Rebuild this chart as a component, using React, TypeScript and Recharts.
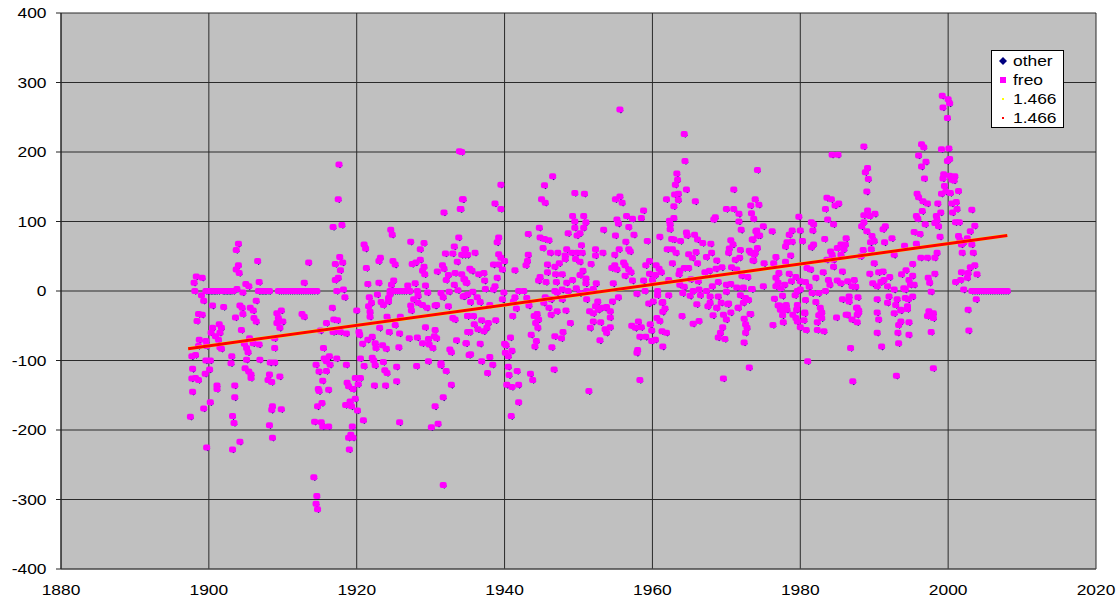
import React from 'react';
import { ScatterChart, Scatter, XAxis, YAxis, CartesianGrid, Legend } from 'recharts';

const xTicks = [1880, 1900, 1920, 1940, 1960, 1980, 2000, 2020];
const yTicks = [-400, -300, -200, -100, 0, 100, 200, 300, 400];
const trendYears = [1897.2, 2008];
const trendValues = [-83, 80];
const legendNames = ['other', 'freo', '1.466', '1.466'];

const zeroYears = [1899.6, 1899.8, 1900, 1900.2, 1900.4, 1900.6, 1900.8, 1901, 1901.3, 1901.8, 1902, 1902.2, 1902.4, 1902.6, 1902.8, 1903, 1903.3, 1906.7, 1906.9, 1907.1, 1907.3, 1907.5, 1907.7, 1908, 1908.2, 1909.4, 1909.7, 1910, 1910.3, 1910.6, 1910.9, 1911.2, 1911.5, 1911.8, 1912.1, 1912.4, 1912.7, 1913, 1913.3, 1913.6, 1913.9, 1914.2, 1914.6, 1924.5, 1924.8, 1925.1, 1925.4, 1925.7, 1926, 1926.3, 1926.6, 1927, 1927.2, 2003.2, 2003.5, 2003.8, 2004.1, 2004.4, 2004.7, 2005, 2005.3, 2005.6, 2005.9, 2006.2, 2006.5, 2006.8, 2007.1, 2007.4, 2007.7, 2008];

const pairsUpperEarly = [[1917.6,182],[1917.5,132],[1916.8,92],[1918,95],[1904,68],[1903.7,59],[1906.6,43],[1913.5,41],[1917.7,49],[1917.1,39],[1918.1,41],[1917.8,30],[1917.5,19],[1917.1,16],[1904,37],[1903.7,31],[1904.1,26],[1898.3,21],[1899.1,19],[1898,12],[1905,10],[1905.4,7],[1906.8,13],[1912.9,12],[1898.1,0],[1899,-6],[1899.3,-14],[1903.8,3],[1904.6,-2],[1921,67],[1921.2,61],[1924.6,88],[1924.8,81],[1927.3,71],[1929.1,69],[1928.6,60],[1933.8,77],[1933.2,64],[1934.6,60],[1932,54],[1933,54],[1934.2,52],[1935,52],[1933.9,201],[1934.3,132],[1934,118],[1931.8,113],[1923.2,48],[1923,43],[1921.3,33],[1924.9,43],[1925.2,38],[1927.5,39],[1928,41],[1928.6,45],[1929.1,35],[1928.9,29],[1929.2,24],[1930.9,28],[1931.6,37],[1931.8,32],[1933.6,42],[1933.3,26],[1932.4,23],[1932.1,16],[1934.2,24],[1934.6,17],[1934.9,12],[1921.5,10],[1923,12],[1925,15],[1924.7,9],[1926.9,8],[1927.9,11],[1929.3,8],[1933.2,9],[1928.2,0],[1929.6,-2],[1931.4,-3],[1931.7,-9],[1932.5,-1],[1933.7,1],[1921.7,-9],[1922.8,-5],[1924.5,-5],[1924.3,-10],[1928.3,-7],[1927.7,-12],[1934.4,-8],[1935,-5],[1917.3,0],[1918.2,2],[1918.4,-9]];

const pairsLowerEarly = [[1900.5,-21],[1902,-23],[1898.6,-33],[1899.1,-34],[1898.4,-43],[1904.2,-21],[1904.5,-24],[1906.4,-14],[1905.6,-24],[1906,-28],[1904.6,-33],[1903.6,-38],[1906.1,-39],[1906.4,-44],[1909.8,-28],[1909.2,-32],[1909.4,-39],[1910,-44],[1909.2,-46],[1909.6,-53],[1912.6,-33],[1912.9,-37],[1916.7,-24],[1920,-28],[1915.9,-46],[1916.9,-41],[1917.4,-42],[1901.4,-48],[1901.7,-53],[1900.5,-53],[1900.3,-60],[1901.5,-60],[1900.9,-65],[1901.3,-70],[1904.4,-56],[1898.7,-70],[1899.6,-72],[1898.6,-79],[1899.7,-79],[1901.5,-81],[1901.7,-83],[1905.5,-68],[1904.8,-76],[1906,-75],[1906.8,-77],[1905.1,-82],[1905.3,-88],[1908.9,-68],[1908.9,-82],[1903.1,-94],[1897.7,-94],[1898.2,-92],[1899.6,-100],[1900.2,-100],[1903,-104],[1905.1,-99],[1906.9,-99],[1908.3,-103],[1908.9,-103],[1897.8,-112],[1900.1,-113],[1899.5,-119],[1904.9,-111],[1905.4,-116],[1905.7,-120],[1905.7,-125],[1908.2,-120],[1909.6,-123],[1908,-128],[1908.5,-131],[1897.7,-126],[1898.2,-125],[1898.6,-128],[1897.8,-145],[1901.1,-136],[1901.1,-141],[1903.5,-136],[1903.5,-153],[1900.2,-160],[1899.3,-169],[1897.5,-181],[1903.2,-180],[1903.4,-190],[1908.2,-193],[1908.6,-166],[1908.5,-171],[1909.8,-170],[1908.6,-211],[1904.2,-217],[1903.2,-228],[1899.7,-225],[1914.2,-268],[1914.6,-295],[1914.5,-306],[1914.7,-314]];

const pairsLowerMid = [[1917.1,-58],[1916.8,-59],[1917.8,-59],[1918.6,-61],[1915.1,-57],[1920.3,-59],[1915.5,-82],[1920.4,-63],[1920.8,-76],[1921.5,-70],[1922.1,-66],[1922.5,-75],[1922.6,-82],[1923.5,-78],[1924,-83],[1925.7,-81],[1924.4,-59],[1925.8,-61],[1923.1,-53],[1925.2,-49],[1925.9,-37],[1924.1,-37],[1921.8,-37],[1921.8,-30],[1921.6,-22],[1922,-17],[1923.3,-16],[1923.6,-20],[1924.3,-15],[1927.4,-28],[1927.3,-21],[1928.3,-17],[1928.9,-20],[1929.5,-24],[1930.6,-21],[1930.8,-20],[1932.4,-22],[1933,-39],[1933.3,-41],[1935,-36],[1929.3,-52],[1930.6,-56],[1927.1,-68],[1928.2,-67],[1929.7,-69],[1930.5,-65],[1930.8,-68],[1928.9,-75],[1929.8,-77],[1930.3,-82],[1933.5,-71],[1934.8,-75],[1935,-59],[1932.6,-84],[1932.8,-88],[1935.2,-92],[1920.5,-97],[1922.1,-96],[1922.3,-100],[1923.6,-102],[1929.7,-101],[1931.4,-104],[1931.4,-107],[1921,-108],[1922.5,-107],[1923.8,-114],[1924.1,-118],[1925.4,-109],[1928.1,-108],[1932.1,-115],[1925.4,-130],[1922.4,-136],[1923.9,-136],[1932.8,-135],[1931.7,-153],[1930.6,-166],[1925.8,-189],[1931,-191],[1930.1,-196],[1931.7,-279],[1914.5,-106],[1915.6,-97],[1916.3,-94],[1917.3,-97],[1915.9,-101],[1916.4,-106],[1918.6,-106],[1914.9,-116],[1915.9,-115],[1915.4,-129],[1914.8,-141],[1914.9,-144],[1916.2,-142],[1918.7,-132],[1918.9,-137],[1919.5,-141],[1920.2,-134],[1919.8,-125],[1920.5,-125],[1919.8,-155],[1919.1,-159],[1918.5,-164],[1919.3,-166],[1915.3,-161],[1914.7,-166],[1920.1,-172],[1920.9,-186],[1914.3,-188],[1915.2,-189],[1915.4,-195],[1916.2,-195],[1919.4,-195],[1919.2,-207],[1918.9,-211],[1919.5,-211],[1919,-228]];

const pairsUpperMid = [[1934.2,200],[1939.5,153],[1934.4,132],[1938.7,126],[1939.5,118],[1934.1,118],[1946.5,165],[1945.4,152],[1945,132],[1945.5,127],[1949.5,141],[1950.8,140],[1955.6,261],[1955,132],[1955.6,136],[1955.9,127],[1958.8,116],[1949.2,108],[1950.7,108],[1949.5,100],[1951,99],[1949.5,91],[1950.7,91],[1944.7,91],[1956.5,108],[1957.3,104],[1958.5,105],[1955.2,103],[1955.4,97],[1956.8,92],[1953.4,88],[1948.6,83],[1950.2,83],[1949.8,80],[1943.2,82],[1955,80],[1957.5,81],[1964.3,226],[1964.4,187],[1963.3,169],[1963.4,160],[1963.1,153],[1964.6,146],[1963.5,140],[1963,139],[1961.9,132],[1963.5,131],[1965.8,129],[1962.9,122],[1974.2,174],[1971,146],[1973.9,132],[1973.3,123],[1970,118],[1971,118],[1971.7,111],[1973.4,112],[1974.4,124],[1968.5,106],[1968.3,103],[1971.7,100],[1973.7,104],[1962.9,105],[1962.3,101],[1962.4,96],[1962.4,89],[1972,88],[1961,78],[1962.6,75],[1962.9,74],[1964.6,84],[1964.7,80],[1965.7,81],[1966.1,74],[1966.8,69],[1967.9,68],[1959.3,72],[1963.8,72],[1970.6,73],[1970.9,67],[1973.6,74],[1974,86],[1974.2,80],[1939.2,77],[1939,70],[1934.7,60],[1944.8,77],[1945.4,75],[1946,73],[1950.4,66],[1945.2,62],[1956.4,71],[1934.6,52],[1936,55],[1939.2,53],[1939.5,48],[1940,43],[1946.2,55],[1947.2,55],[1948.4,60],[1948.2,51],[1949.1,55],[1949.8,55],[1950.5,55],[1948.2,46],[1949.6,46],[1950.2,42],[1952.3,60],[1952.3,51],[1953.3,55],[1955.5,60],[1956.8,60],[1957,57],[1954.9,52],[1943.2,52],[1943.1,43],[1942.9,37],[1945.8,38],[1947.4,40],[1946.8,35],[1951.7,39],[1954.9,37],[1954.5,33],[1955.2,31],[1956.1,41],[1956.3,37],[1956.8,31],[1957.1,27],[1959.1,37],[1959.6,43],[1960.5,37],[1960.9,32],[1961.2,27],[1962.7,40],[1962,60],[1962.7,60],[1963.2,55],[1964.9,53],[1965.4,48],[1965.9,56],[1966.1,40],[1967.3,49],[1968,55],[1968.7,44],[1969.4,34],[1970.3,55],[1970.4,61],[1971.9,59],[1971.2,45],[1971.8,48],[1973.1,58],[1973.8,53],[1973.6,44],[1970.7,34],[1971.4,31],[1964.9,33],[1964.3,33],[1963.7,29],[1963.6,24],[1967.7,29],[1967.1,27],[1968.6,32],[1941.4,30],[1939.7,31],[1939,19],[1937.3,15],[1936.5,24],[1937.2,26],[1935.3,32],[1935.6,29],[1934.5,17],[1934.8,12],[1938.5,38],[1939.2,38],[1944.8,20],[1944.6,15],[1945.8,27],[1946.9,24],[1945.6,13],[1947,13],[1947.8,24],[1948.4,12],[1949.2,16],[1950.2,23],[1950.6,29],[1951,18],[1951,11],[1952.4,11],[1954.7,11],[1956.3,22],[1957.3,15],[1958.8,15],[1959.6,25],[1960.4,23],[1960,16],[1962.2,16],[1963.7,9],[1964.3,6],[1965.2,17],[1966.2,14],[1968.1,7],[1968.9,13],[1970,9],[1970.6,10],[1972.9,20],[1972.1,22],[1971.4,5],[1972.3,5],[1973.4,3]];

const pairsNearLineMid = [[1935.7,-1],[1937.4,3],[1938.5,2],[1938.7,7],[1939.9,-2],[1934.6,-7],[1936.3,-9],[1935.4,-16],[1936.7,-16],[1938,-20],[1939.7,-12],[1941.4,-9],[1941.2,-15],[1942.6,0],[1941.9,0],[1943,-10],[1943.3,-21],[1941.6,-25],[1945.5,-9],[1945.3,-17],[1946,-24],[1946.8,0],[1947.8,2],[1947.1,-2],[1947.8,-12],[1946.3,-12],[1948.6,0],[1949.7,4],[1951.1,0],[1952,3],[1951.1,-12],[1950.2,-3],[1955.4,-9],[1952.6,-15],[1952.3,-22],[1954.6,-15],[1953.8,-23],[1953.1,-24],[1954.3,-29],[1957.9,-4],[1959,0],[1960.7,0],[1960.7,-6],[1960.1,-15],[1959.5,-18],[1961.4,-16],[1962.2,-6],[1964.1,-3],[1965.1,-7],[1965.5,0],[1966.3,2],[1966.5,-6],[1967.3,0],[1967.8,-8],[1966,-19],[1967.8,-17],[1968.9,-8],[1969.3,-17],[1970.2,-19],[1968.7,-24],[1971.6,-24],[1970,-1],[1971.9,-6],[1972.6,-10],[1973,-13],[1972.3,-17]];

const pairsLowerLate = [[1935,-36],[1935.8,-36],[1935.9,-48],[1936.9,-42],[1937.8,-46],[1938.8,-42],[1937.6,-53],[1937.2,-58],[1935.3,-59],[1936.4,-55],[1934.8,-75],[1936.7,-76],[1935.4,-91],[1938,-95],[1936.9,-101],[1938.4,-106],[1937.7,-118],[1941.1,-36],[1944.4,-33],[1944,-36],[1944.6,-41],[1944.2,-46],[1944.5,-53],[1946.3,-34],[1947.1,-29],[1948.3,-28],[1948.9,-46],[1943.6,-63],[1944.3,-72],[1944.1,-80],[1940.8,-67],[1940,-76],[1940.2,-78],[1941,-86],[1940.1,-89],[1940.5,-94],[1946.8,-65],[1947.7,-68],[1947.9,-59],[1946.4,-81],[1940.5,-109],[1941.7,-115],[1940.6,-121],[1943.5,-119],[1943.8,-128],[1946.7,-113],[1940.3,-135],[1941,-138],[1941.9,-135],[1941.9,-160],[1940.9,-180],[1951.4,-144],[1951.5,-29],[1952,-32],[1952.7,-27],[1953.6,-24],[1954.3,-38],[1952,-44],[1953,-45],[1951.6,-53],[1953.6,-55],[1954.3,-52],[1953.8,-60],[1952.9,-71],[1957.2,-50],[1958.1,-44],[1957.7,-53],[1958.5,-52],[1959.7,-48],[1959.9,-57],[1958.3,-66],[1959.1,-66],[1959.9,-72],[1960.4,-70],[1958,-85],[1957.9,-89],[1958.3,-128],[1961.4,-80],[1960.6,-39],[1961,-43],[1961.3,-58],[1961.9,-60],[1961.3,-17],[1961.7,-25],[1961.4,-30],[1964,-36],[1965.5,-47],[1966.3,-43],[1968.2,-35],[1967.5,-22],[1968.7,-24],[1970.3,-18],[1970.6,-31],[1969.6,-34],[1970,-41],[1969.5,-52],[1971.6,-24],[1969.2,-60],[1968.9,-67],[1969.8,-69],[1972.4,-40],[1972.6,-48],[1972.8,-53],[1972.6,-60],[1973.2,-33],[1972.4,-74],[1973.1,-110],[1969.6,-126]];

const pairsUpperRecent = [[1999.2,281],[2000,276],[2000.2,270],[1999.3,264],[1999.9,249],[1988.6,208],[1984.3,196],[1985.1,196],[1996.4,211],[1996.7,207],[1996,195],[1999.1,204],[2000.1,205],[2000.2,190],[1999.9,187],[1997,186],[1996.4,179],[1989.1,177],[1988.8,171],[1989.2,161],[1989,143],[1996.8,162],[1999.4,168],[1999.3,162],[2000.2,166],[2000.9,165],[2000.8,159],[2000.5,160],[1999.5,151],[1999.7,143],[2000.3,141],[1999.1,140],[2001.4,144],[1995.8,140],[1996,135],[1996.6,129],[1997.2,126],[1998.6,126],[2000.5,126],[2001.1,128],[2001.2,118],[2000.6,113],[2003.2,117],[1983.6,134],[1984.2,132],[1985.2,126],[1984.7,123],[1983.4,118],[1989.1,116],[1988.6,109],[1990.1,111],[1989.4,108],[1996.5,115],[1999,113],[1998.4,108],[1995.7,108],[1995.9,104],[1998.5,102],[1998.2,98],[1983.7,103],[1984.5,96],[1979.8,107],[1981.5,99],[1981.8,96],[1988.6,99],[1988.3,93],[1989,86],[1991.5,93],[1991.2,89],[1996.9,96],[1998.7,93],[2001,99],[2001.5,99],[2003.6,94],[2003,86],[1980,87],[1981.7,87],[1976.2,86],[1975,93],[1978.9,87],[1978.5,81],[1983.3,75],[1986.2,76],[1995.4,85],[1996.2,82],[1998.9,78],[1989.7,79],[1990,72],[1989.5,70],[1992.4,76],[1991.4,70],[2001.4,79],[2001.6,73],[2001.8,67],[2002.6,76],[2003.2,67],[1974.1,87],[1974.5,80],[1973.5,74],[1974.2,62],[1980.3,72],[1978.9,71],[1978.2,70],[1978,64],[1981.8,67],[1981.5,63],[1978.7,51],[1976.7,49],[1978,42],[1976.4,40],[1975.1,40],[1973.7,44],[1973.3,55],[1973.9,55],[1985.5,67],[1986.1,67],[1985,62],[1984.1,57],[1985.9,60],[1984.3,52],[1985.5,52],[1983.6,45],[1984.5,45],[1988.5,59],[1988.2,50],[1989.6,60],[1990,40],[1992.7,52],[1994.1,65],[1995.7,68],[1996.3,48],[1997.2,48],[1998.5,55],[1998.2,48],[1995.2,39],[1994.3,30],[2002.1,70],[2001.9,55],[2003.4,55],[2003.6,37],[2003,34],[1980.9,33],[1981.4,31],[1984.5,35],[1985.7,28],[1983.1,27],[1989.4,25],[1990.6,27],[1991.2,28],[1993.7,24],[1998.2,25],[2001.8,27],[2002.7,26],[2003.9,24],[2002.6,19],[2001.7,16],[2001,13],[1995.2,22],[1997.3,19],[1997.5,12],[1995.4,9],[1977.1,26],[1978.5,25],[1979.4,20],[1978.8,14],[1976.7,19],[1977,12],[1982.1,19],[1983.8,16],[1984,9],[1985,15],[1986.4,14],[1985.5,11],[1987.3,16],[1987,7],[1987.5,6],[1991.3,16],[1990.9,13],[1992.1,20],[1989.8,11],[1994.7,16],[1994.9,9],[1994,4],[1980,14],[1980.7,13],[1975,7],[1976.7,7],[1977.9,9],[1977.4,4],[1973.5,3],[1981.2,6],[1980,2],[1979.6,0],[1982.5,-3],[1983.4,0],[1981.6,-3],[1990.4,7],[1991.8,7],[1992.7,2],[1994.2,2],[1997.7,-1],[2002.1,2]];

const pairsLowerRecent = [[2003.8,-12],[1980.7,-13],[1982.1,-16],[1985.7,-12],[1986.6,-8],[1987.8,-9],[1986.6,-15],[1990.4,-12],[1992,-8],[1993.1,-12],[1991.8,-17],[1994.2,-10],[1995.2,-8],[1994.6,-12],[1992.9,-20],[1977.2,-21],[1979.6,-20],[1977.7,-28],[1978.2,-27],[1980.6,-31],[1982.9,-31],[1984.9,-38],[1986.4,-34],[1987.7,-24],[1987.9,-31],[1990.4,-31],[1993.6,-27],[1994.5,-22],[1997.4,-29],[1998,-32],[2002.7,-27],[1976.5,-11],[1977.6,-7],[1979.3,-6],[1978.1,-20],[1977,-21],[1977.3,-27],[1977.9,-26],[1977.6,-35],[1979,-34],[1979.4,-39],[1979.6,-44],[1977.7,-45],[1976.3,-49],[1973.3,-33],[1979.5,-27],[1980.6,-32],[1980.5,-42],[1980,-52],[1980.8,-56],[1982.3,-56],[1983.2,-58],[1982.3,-45],[1982.7,-24],[1982.8,-32],[1982.5,-35],[1982.9,-39],[1986.2,-34],[1987,-41],[1987.7,-45],[1987.6,-24],[1987.9,-28],[1987.7,-34],[1990.6,-41],[1990.4,-60],[1992.7,-32],[1993.6,-28],[1994.5,-26],[1993.6,-44],[1993.3,-49],[1994.7,-45],[1993.2,-60],[1994.7,-63],[1993.3,-75],[1991,-80],[1986.8,-82],[1981,-101],[1993,-122],[1987.1,-130],[1998,-111],[1997.2,-36],[1997.9,-33],[1998,-39],[1997.7,-59],[2002.8,-57]];

const measured = [...zeroYears.map((y) => [y, 0]), ...pairsUpperEarly, ...pairsLowerEarly, ...pairsLowerMid, ...pairsUpperMid, ...pairsNearLineMid, ...pairsLowerLate, ...pairsUpperRecent, ...pairsLowerRecent];
const points = measured.map(([year, value]) => ({ year, value }));
const trend = trendYears.map((year, i) => ({ year, value: trendValues[i] }));

const FONT = '"Liberation Sans", Arial, sans-serif';

const OtherMark = (p: any) => {
  const cx = p.cx + 1, cy = p.cy + 1.2;
  return <path d={`M${cx} ${cy - 2.6}L${cx + 2.6} ${cy}L${cx} ${cy + 2.6}L${cx - 2.6} ${cy}Z`} fill="#000080" />;
};
const FreoMark = (p: any) => <rect x={p.cx - 3.5} y={p.cy - 3} width={7} height={6} rx={2} fill="#FF00FF" />;
const NoMark = () => <g />;

const XTick = (p: any) => (
  <text transform={`translate(${p.x},${p.y + 18}) scale(1.2,1)`} textAnchor="middle" fontSize={14.5} fontFamily={FONT} fill="#000">{p.payload.value}</text>
);
const YTick = (p: any) => (
  <g>
    <line x1={56} x2={61} y1={p.y} y2={p.y} stroke="#222" />
    <text transform={`translate(46.5,${p.y + 5}) scale(1.2,1)`} textAnchor="end" fontSize={14.5} fontFamily={FONT} fill="#000">{p.payload.value}</text>
  </g>
);

const legendMarks = [
  <path d="M6 2L10 6L6 10L2 6Z" fill="#000080" />,
  <rect x="3" y="3" width="6" height="6" fill="#FF00FF" />,
  <rect x="5" y="5" width="2" height="2" fill="#FFFF00" />,
  <rect x="5" y="5" width="2" height="2" fill="#FF0000" />,
];

const LegendBox = () => (
  <div style={{ width: 71, height: 76, background: '#fff', border: '1px solid #000', fontFamily: FONT, fontSize: 14.5, color: '#000', boxSizing: 'content-box' }}>
    {legendNames.map((n, i) => (
      <div key={i} style={{ height: 19, position: 'relative' }}>
        <svg width={12} height={12} style={{ position: 'absolute', left: 5, top: 4 }}>{legendMarks[i]}</svg>
        <span style={{ position: 'absolute', left: 21, top: 2, lineHeight: '17px', transform: 'scale(1.2,1)', transformOrigin: 'left center' }}>{n}</span>
      </div>
    ))}
  </div>
);

export default function App() {
  return (
    <div style={{ position: 'absolute', left: 0, top: 0, width: 1120, height: 598, background: '#fff' }}>
      <ScatterChart width={1120} height={598} margin={{ top: 13, right: 24, bottom: 0, left: 0 }}>
        <CartesianGrid fill="#C0C0C0" stroke="#2a2a2a" strokeWidth={1} />
        <XAxis type="number" dataKey="year" domain={[1880, 2020]} ticks={xTicks} height={29} tick={<XTick />} tickLine={false} axisLine={{ stroke: '#555' }} interval={0} />
        <YAxis type="number" dataKey="value" domain={[-400, 400]} ticks={yTicks} width={61} tick={<YTick />} tickLine={false} axisLine={{ stroke: '#222' }} interval={0} />
        <Legend layout="vertical" align="center" verticalAlign="middle" content={<LegendBox />} wrapperStyle={{ left: 991, top: 50, width: 73, bottom: 'auto', right: 'auto' }} />
        <Scatter name="other" data={points} shape={<OtherMark />} isAnimationActive={false} />
        <Scatter name="freo" data={points} shape={<FreoMark />} isAnimationActive={false} />
        <Scatter name="1.466" data={trend} line={{ stroke: '#FFFF00', strokeWidth: 3.4 }} shape={<NoMark />} isAnimationActive={false} />
        <Scatter name="1.466" data={trend} line={{ stroke: '#FF0000', strokeWidth: 3 }} shape={<NoMark />} isAnimationActive={false} />
      </ScatterChart>
    </div>
  );
}
